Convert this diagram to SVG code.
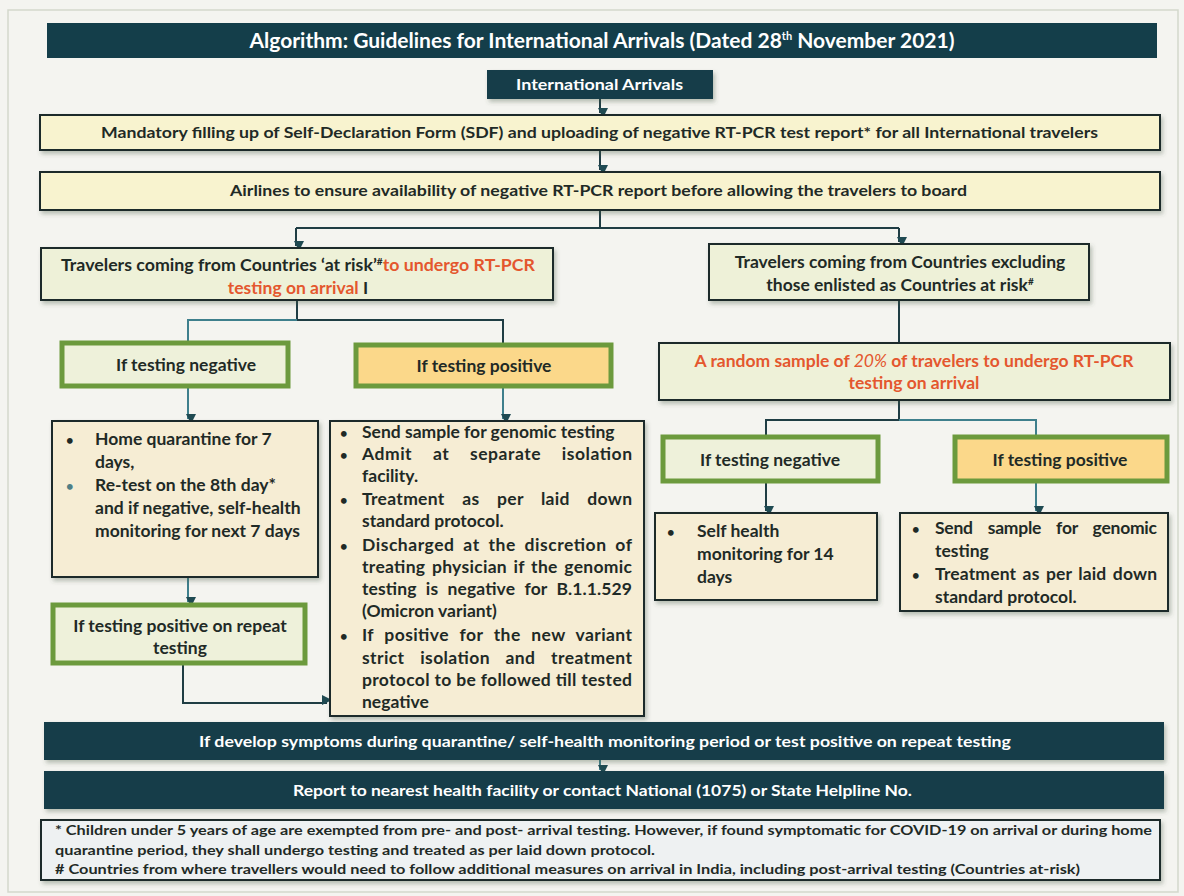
<svg xmlns="http://www.w3.org/2000/svg" width="1184" height="896" viewBox="0 0 1184 896">
<defs>
<style>
.t{font-family:Lato,"Open Sans","Liberation Sans",sans-serif;font-weight:700;font-size:17.5px;fill:#1f2a26}
.w{fill:#ffffff}
.o{fill:#e4572e}
.s{font-size:10px}
.b{font-size:13px}
.f21{font-size:21px}
.f16{font-size:16px}
.f15{font-size:15px}
.f13{font-size:13.5px}
.dark{fill:#143e4a}
.cream{fill:#f8f3cf;stroke:#1d2a2a;stroke-width:2}
.lg{fill:#eef1d8;stroke:#1d2a2a;stroke-width:2}
.beige{fill:#f6edd4;stroke:#1d2a2a;stroke-width:2}
.gneg{fill:#eef1da;stroke:#6c9a3d;stroke-width:5}
.gpos{fill:#fbd88a;stroke:#6c9a3d;stroke-width:5}
.foot{fill:#eef1f2;stroke:#1d2a2a;stroke-width:2}
.c1{fill:none;stroke:#1f3d44;stroke-width:2}
.c2{fill:none;stroke:#3e7f8c;stroke-width:2}
.ar{marker-end:url(#ah)}
</style>
<marker id="ah" markerWidth="10" markerHeight="10" refX="5" refY="8" orient="auto-start-reverse" markerUnits="userSpaceOnUse" viewBox="0 0 10 10">
<path d="M0,0 L10,5 L0,10 z" fill="#1f4a52"/>
</marker>
<filter id="sh" x="-5%" y="-20%" width="110%" height="150%">
<feDropShadow dx="2" dy="3" stdDeviation="2" flood-color="#4a5a40" flood-opacity="0.35"/>
</filter>
</defs>
<rect x="0" y="0" width="1184" height="896" fill="#f4f4f0"/>
<rect x="8" y="10" width="1170" height="882" fill="none" stroke="#d3d8cc" stroke-width="1.5"/>

<g id="connectors">
<path class="c1 ar" d="M600,99 V113"/>
<path class="c1 ar" d="M600,150 V170"/>
<path class="c1" d="M600,210 V228 M296,228 H899"/>
<path class="c1 ar" d="M296,228 V246"/>
<path class="c1 ar" d="M899,228 V242"/>
<path class="c1" d="M297,300 V320 H503 V343"/>
<path class="c2" d="M297,320 H188 V341"/>
<path class="c2 ar" d="M188,388 V419"/>
<path class="c2 ar" d="M503,388 V419"/>
<path class="c2 ar" d="M188,577 V602"/>
<path class="c1 ar" d="M183,665 V703 H327"/>
<path class="c1" d="M899,300 V343"/>
<path class="c1" d="M899,400 V420 H766 V435"/>
<path class="c2" d="M899,420 H1036 V435"/>
<path class="c1 ar" d="M766,483 V511"/>
<path class="c2 ar" d="M1036,483 V511"/>
<path class="c2 ar" d="M600,760 V770"/>
</g>

<g id="title">
<rect class="dark" x="47" y="23" width="1110" height="35"/>
<text class="t w f21" x="602" y="48" text-anchor="middle">Algorithm: Guidelines for International Arrivals (Dated 28<tspan font-size="11" dy="-8">th</tspan><tspan dy="8"> November 2021)</tspan></text>
</g>

<g id="international-arrivals">
<rect class="dark" x="487" y="70" width="226" height="29" filter="url(#sh)"/>
<text class="t w f15" x="516" y="90" textLength="167" lengthAdjust="spacingAndGlyphs">International Arrivals</text>
</g>

<g id="mandatory">
<rect class="cream" x="40" y="115" width="1120" height="35" filter="url(#sh)"/>
<text class="t f16" x="101" y="138" textLength="997" lengthAdjust="spacingAndGlyphs">Mandatory filling up of Self-Declaration Form (SDF) and uploading of negative RT-PCR test report* for all International  travelers</text>
</g>

<g id="airlines">
<rect class="cream" x="40" y="172" width="1120" height="38" filter="url(#sh)"/>
<text class="t f16" x="230" y="196" textLength="737" lengthAdjust="spacingAndGlyphs">Airlines to ensure availability of negative RT-PCR report before allowing the travelers to board</text>
</g>

<g id="at-risk">
<rect class="lg" x="41" y="248" width="512" height="52" filter="url(#sh)"/>
<text class="t" x="61" y="271" textLength="474" lengthAdjust="spacingAndGlyphs">Travelers coming from Countries ‘at risk’<tspan class="s" dy="-6">#</tspan><tspan class="o" dy="6">to undergo RT-PCR</tspan></text>
<text class="t" x="298" y="294" text-anchor="middle"><tspan class="o">testing on arrival</tspan> I</text>
</g>

<g id="not-at-risk">
<rect class="lg" x="709" y="244" width="380" height="56" filter="url(#sh)"/>
<text class="t" x="900" y="268" text-anchor="middle">Travelers coming from Countries excluding</text>
<text class="t" x="900" y="291" text-anchor="middle">those enlisted as Countries at risk<tspan class="s" dy="-6">#</tspan></text>
</g>

<g id="left-negative">
<rect class="gneg" x="62" y="343" width="226" height="43"/>
<text class="t" x="186" y="371" text-anchor="middle">If testing negative</text>
</g>

<g id="left-positive">
<rect class="gpos" x="356" y="345" width="255" height="41"/>
<text class="t" x="484" y="372" text-anchor="middle">If testing positive</text>
</g>

<g id="home-quarantine">
<rect class="beige" x="52" y="421" width="266" height="156" filter="url(#sh)"/>
<text class="t b" x="66" y="445">•</text>
<text class="t" x="95" y="445">Home quarantine for 7</text>
<text class="t" x="95" y="468">days,</text>
<text class="t b" x="66" y="491" style="fill:#4f7f86">•</text>
<text class="t" x="95" y="491">Re-test on the 8th day*</text>
<text class="t" x="95" y="514">and if negative, self-health</text>
<text class="t" x="95" y="537">monitoring for next 7 days</text>
</g>

<g id="positive-actions">
<rect class="beige" x="330" y="421" width="314" height="295" filter="url(#sh)"/>
<text class="t b" x="340" y="438">•</text>
<text class="t" x="362" y="438">Send sample for genomic testing</text>
<text class="t b" x="340" y="460">•</text>
<text class="t" x="362" y="460" word-spacing="16" textLength="270" lengthAdjust="spacing">Admit at separate isolation</text>
<text class="t" x="362" y="482">facility.</text>
<text class="t b" x="340" y="505">•</text>
<text class="t" x="362" y="505" word-spacing="13" textLength="270" lengthAdjust="spacing">Treatment as per laid down</text>
<text class="t" x="362" y="527">standard protocol.</text>
<text class="t b" x="340" y="551">•</text>
<text class="t" x="362" y="551" word-spacing="4" textLength="270" lengthAdjust="spacing">Discharged at the discretion of</text>
<text class="t" x="362" y="573" word-spacing="2" textLength="270" lengthAdjust="spacing">treating physician if the genomic</text>
<text class="t" x="362" y="595" word-spacing="5" textLength="270" lengthAdjust="spacing">testing is negative for B.1.1.529</text>
<text class="t" x="362" y="617">(Omicron variant)</text>
<text class="t b" x="340" y="641">•</text>
<text class="t" x="362" y="641" word-spacing="6" textLength="270" lengthAdjust="spacing">If positive for the new variant</text>
<text class="t" x="362" y="664" word-spacing="11" textLength="270" lengthAdjust="spacing">strict isolation and treatment</text>
<text class="t" x="362" y="686" textLength="270" lengthAdjust="spacing">protocol to be followed till tested</text>
<text class="t" x="362" y="708">negative</text>
</g>

<g id="repeat-positive">
<rect class="gneg" x="53" y="605" width="252" height="58"/>
<text class="t" x="180" y="632" text-anchor="middle">If testing positive on repeat</text>
<text class="t" x="180" y="654" text-anchor="middle">testing</text>
</g>

<g id="random-sample">
<rect class="lg" x="659" y="343" width="511" height="57" filter="url(#sh)"/>
<text class="t o" x="914" y="367" text-anchor="middle">A random sample of <tspan font-weight="400" font-style="italic">20%</tspan> of travelers to undergo RT-PCR</text>
<text class="t o" x="914" y="389" text-anchor="middle">testing on arrival</text>
</g>

<g id="right-negative">
<rect class="gneg" x="663" y="437" width="215" height="44"/>
<text class="t" x="770" y="466" text-anchor="middle">If testing negative</text>
</g>

<g id="right-positive">
<rect class="gpos" x="955" y="437" width="212" height="44"/>
<text class="t" x="1060" y="466" text-anchor="middle">If testing positive</text>
</g>

<g id="self-health">
<rect class="beige" x="655" y="513" width="222" height="87" filter="url(#sh)"/>
<text class="t b" x="667" y="537">•</text>
<text class="t" x="697" y="537">Self health</text>
<text class="t" x="697" y="560">monitoring for 14</text>
<text class="t" x="697" y="583">days</text>
</g>

<g id="right-positive-actions">
<rect class="beige" x="900" y="513" width="268" height="98" filter="url(#sh)"/>
<text class="t b" x="912" y="534">•</text>
<text class="t" x="935" y="534" word-spacing="11" textLength="222" lengthAdjust="spacing">Send sample for genomic</text>
<text class="t" x="935" y="557">testing</text>
<text class="t b" x="912" y="580">•</text>
<text class="t" x="935" y="580" word-spacing="2" textLength="222" lengthAdjust="spacing">Treatment as per laid down</text>
<text class="t" x="935" y="603">standard protocol.</text>
</g>

<g id="symptoms">
<rect class="dark" x="44" y="722" width="1120" height="38" filter="url(#sh)"/>
<text class="t w f16" x="199" y="747" textLength="812" lengthAdjust="spacingAndGlyphs">If develop symptoms during quarantine/ self-health monitoring period or test positive on repeat testing</text>
</g>

<g id="report">
<rect class="dark" x="44" y="771" width="1120" height="38" filter="url(#sh)"/>
<text class="t w f16" x="293" y="796" textLength="619" lengthAdjust="spacingAndGlyphs">Report to nearest health facility or contact National (1075) or State Helpline No.</text>
</g>

<g id="footnotes">
<rect class="foot" x="41" y="820" width="1119" height="60" filter="url(#sh)"/>
<text class="t f13" x="55" y="835" textLength="1097" lengthAdjust="spacingAndGlyphs">*  Children under 5 years of age are exempted from pre- and post- arrival testing. However, if found symptomatic for COVID-19 on arrival or during home</text>
<text class="t f13" x="55" y="855" textLength="600" lengthAdjust="spacingAndGlyphs">quarantine period, they shall undergo testing and treated as per laid down protocol.</text>
<text class="t f13" x="55" y="874" textLength="1025" lengthAdjust="spacingAndGlyphs">#  Countries from where travellers would need to follow additional measures on arrival in India, including post-arrival testing (Countries at-risk)</text>
</g>
</svg>
